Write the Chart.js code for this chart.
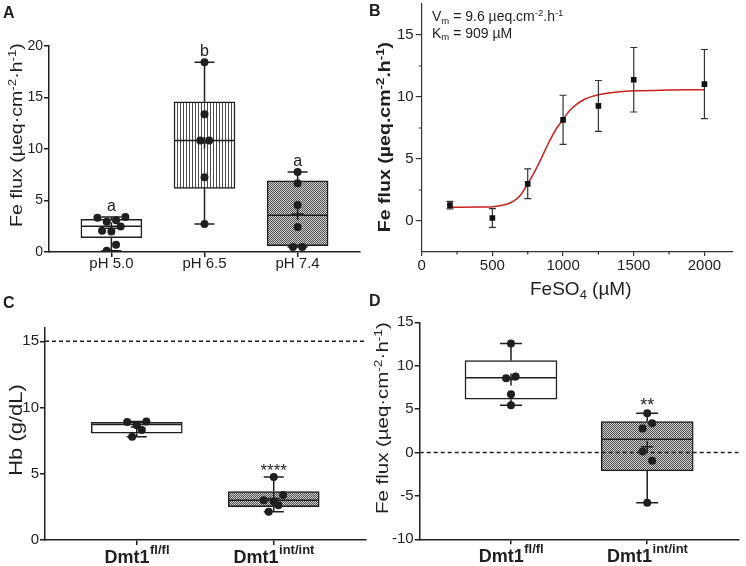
<!DOCTYPE html>
<html>
<head>
<meta charset="utf-8">
<script src="https://cdn.jsdelivr.net/npm/chart.js@4.4.1/dist/chart.umd.min.js"></script>
<style>
  body { margin: 0; width: 746px; height: 566px; position: relative; overflow: hidden; background: #fff;
         font-family: "Liberation Sans", Arial, sans-serif; color: #1f1f1f; }
  canvas { position: absolute; }
  .t { position: absolute; white-space: nowrap; line-height: 1; }
  .letter { font-weight: bold; font-size: 16px; }
  .yt { transform: translate(-50%, -50%) rotate(-90deg) scaleX(1.15); }
  sup, sub { font-size: 0.68em; line-height: 0; position: relative; vertical-align: baseline; }
  sup { top: -0.55em; }
  sub { top: 0.3em; }
</style>
</head>
<body>
<canvas id="chartA" width="373" height="283" style="left:0;top:0"></canvas>
<canvas id="chartB" width="373" height="283" style="left:373px;top:0"></canvas>
<canvas id="chartC" width="373" height="283" style="left:0;top:283px"></canvas>
<canvas id="chartD" width="373" height="283" style="left:373px;top:283px"></canvas>

<div class="t letter" style="left:3px;top:4.5px">A</div>
<div class="t letter" style="left:369px;top:3px">B</div>
<div class="t letter" style="left:3px;top:294.5px">C</div>
<div class="t letter" style="left:369px;top:293px">D</div>

<div class="t yt" style="left:16px;top:135px;font-size:17px">Fe flux (µeq·cm<sup>-2</sup>·h<sup>-1</sup>)</div>
<div class="t yt" style="left:384px;top:137px;font-size:17px;font-weight:bold">Fe flux (µeq.cm<sup>-2</sup>.h<sup>-1</sup>)</div>
<div class="t" style="left:432px;top:9px;font-size:14px">V<sub>m</sub> = 9.6 µeq.cm<sup>-2</sup>.h<sup>-1</sup></div>
<div class="t" style="left:432px;top:25.5px;font-size:14px">K<sub>m</sub> = 909 µM</div>
<div class="t" style="left:530px;top:279px;font-size:19px">FeSO<sub>4</sub> (µM)</div>
<div class="t yt" style="left:16px;top:430px;font-size:18px;transform:translate(-50%,-50%) rotate(-90deg) scaleX(1.22)">Hb (g/dL)</div>
<div class="t yt" style="left:382px;top:418px;font-size:17px;transform:translate(-50%,-50%) rotate(-90deg) scaleX(1.2)">Fe flux (µeq·cm<sup>-2</sup>·h<sup>-1</sup>)</div>

<script>
const INK = '#1f1f1f';
const FONT = '"Liberation Sans", Arial, sans-serif';
Chart.defaults.font.family = FONT;
Chart.defaults.color = INK;

// A: Fe flux at three pH values
const phLabels = ['pH 5.0', 'pH 6.5', 'pH 7.4'];
const phPoints = [
  [3.32, 2.93, 3.09, 3.41, 2.06, 2.0, 2.48, 0.71, 0.13],
  [18.42, 13.37, 10.82, 10.82, 7.25, 2.71],
  [7.76, 6.67, 4.57, 2.42, 0.48, 0.48]
];
const phJitter = [
  [-0.15, -0.05, 0.05, 0.15, -0.1, 0, 0.1, 0.05, -0.05],
  [0, 0, -0.045, 0.05, 0, 0],
  [0, 0, 0, 0, -0.05, 0.05]
];
const phQ1 = [1.38, 6.18, 0.61];
const phMedian = [2.51, 10.82, 3.57];
const phQ3 = [3.16, 14.59, 6.92];
const phMin = [0.13, 2.71, 0.48];
const phMax = [3.41, 18.42, 7.76];
const phMean = [2.3, 10.6, 3.7];
const phSig = ['a', 'b', 'a'];
const phTicks = [0, 5, 10, 15, 20];

// B: Fe flux vs FeSO4 concentration
const feConc = [200, 500, 750, 1000, 1250, 1500, 2000];
const feFlux = [1.28, 0.24, 3.0, 8.16, 9.28, 11.39, 11.04];
const feErr = [0.3, 0.75, 1.2, 1.98, 2.05, 2.6, 2.79];
const fitConc = [200, 400, 500, 600, 650, 700, 750, 800, 850, 900, 950, 1000, 1050, 1100, 1150, 1200, 1250, 1300, 1400, 1500, 1750, 2000];
const fitFlux = [1.10, 1.12, 1.15, 1.35, 1.6, 2.1, 3.0, 4.0, 5.15, 6.35, 7.4, 8.2, 8.95, 9.45, 9.8, 10.03, 10.19, 10.29, 10.43, 10.5, 10.56, 10.59];
const concTicks = [0, 500, 1000, 1500, 2000];
const concMinor = [250, 750, 1250, 1750];
const fluxTicks = [0, 5, 10, 15];
const fluxMinor = [2.5, 7.5, 12.5];

// C and D: Dmt1 genotypes
const geneName = 'Dmt1';
const genotypes = ['fl/fl', 'int/int'];

const hbPoints = [[8.91, 8.94, 8.66, 8.31, 7.8], [4.76, 3.4, 3.0, 2.9, 2.62, 2.14]];
const hbJitter = [[-0.07, 0.07, 0, 0.037, -0.034], [0, 0.068, -0.073, 0, 0.034, -0.037]];
const hbQ1 = [8.06, 2.52];
const hbMedian = [8.71, 3.0];
const hbQ3 = [8.89, 3.65];
const hbMin = [7.8, 2.14];
const hbMax = [8.94, 4.76];
const hbMean = [8.52, 3.14];
const hbSig = ['', '****'];
const hbNormal = 15;
const hbTicks = [0, 5, 10, 15];

const dPoints = [[12.56, 8.56, 8.76, 6.72, 5.45], [4.53, 3.38, 2.76, 0.12, -0.96, -5.8]];
const dJitter = [[0, -0.036, 0.034, 0, 0], [0, 0.036, -0.034, -0.034, 0.036, 0]];
const dQ1 = [6.14, -2.11];
const dMedian = [8.6, 1.54];
const dQ3 = [10.6, 3.57];
const dMin = [5.45, -5.8];
const dMax = [12.56, 4.53];
const dMean = [8.4, 0.67];
const dSig = ['', '**'];
const dTicks = [-10, -5, 0, 5, 10, 15];

function pattern(w, h, paint) {
  const c = document.createElement('canvas');
  c.width = w; c.height = h;
  const g = c.getContext('2d');
  paint(g);
  return g.createPattern(c, 'repeat');
}
const white = '#ffffff';
const stripes = pattern(3, 1, g => {
  g.fillStyle = '#fff'; g.fillRect(0, 0, 3, 1);
  g.fillStyle = '#4a4a4a'; g.fillRect(0, 0, 1, 1);
});
const checker = pattern(2, 2, g => {
  g.fillStyle = '#d2d2d2'; g.fillRect(0, 0, 2, 2);
  g.fillStyle = '#4e4e4e'; g.fillRect(0, 0, 1, 1); g.fillRect(1, 1, 1, 1);
});

function boxExtras(g) {
  return {
    id: 'boxExtras',
    afterDatasetDraw(chart, args) {
      if (args.index !== 0) return;
      const { ctx, chartArea, scales: { x, y } } = chart;
      ctx.save();
      ctx.strokeStyle = INK;
      ctx.lineWidth = 1.5;
      if (g.refLine !== undefined) {
        const ry = y.getPixelForValue(g.refLine);
        ctx.setLineDash([4, 3]);
        ctx.beginPath();
        ctx.moveTo(chartArea.left, ry);
        ctx.lineTo(chartArea.right, ry);
        ctx.stroke();
        ctx.setLineDash([]);
      }
      g.q1.forEach((q, i) => {
        const cx = x.getPixelForValue(i);
        const hb = g.boxPx / 2 - 1, hc = g.capPx / 2;
        const pMed = y.getPixelForValue(g.median[i]);
        const pQ1 = y.getPixelForValue(q), pQ3 = y.getPixelForValue(g.q3[i]);
        const pMin = y.getPixelForValue(g.min[i]), pMax = y.getPixelForValue(g.max[i]);
        ctx.beginPath();
        ctx.moveTo(cx - hb, pMed); ctx.lineTo(cx + hb, pMed);
        ctx.moveTo(cx, pQ3); ctx.lineTo(cx, pMax);
        ctx.moveTo(cx - hc, pMax); ctx.lineTo(cx + hc, pMax);
        ctx.moveTo(cx, pQ1); ctx.lineTo(cx, pMin);
        ctx.moveTo(cx - hc, pMin); ctx.lineTo(cx + hc, pMin);
        ctx.stroke();
      });
      ctx.restore();
    },
    afterDraw(chart) {
      const { ctx, scales: { x, y } } = chart;
      ctx.save();
      ctx.fillStyle = INK;
      ctx.textBaseline = 'alphabetic';
      ctx.font = g.sigFont;
      ctx.textAlign = 'center';
      g.sig.forEach((s, i) => {
        if (s) ctx.fillText(s, x.getPixelForValue(i), y.getPixelForValue(g.max[i]) - g.sigGap);
      });
      if (g.sup) {
        ctx.textAlign = 'left';
        g.sup.forEach((s, i) => {
          ctx.font = 'bold 18px ' + FONT;
          const w1 = ctx.measureText(geneName).width;
          ctx.font = 'bold 13px ' + FONT;
          const w2 = ctx.measureText(s).width;
          const x0 = x.getPixelForValue(i) - (w1 + w2) / 2;
          const base = x.top + 22.5;
          ctx.font = 'bold 18px ' + FONT;
          ctx.fillText(geneName, x0, base);
          ctx.font = 'bold 13px ' + FONT;
          ctx.fillText(s, x0 + w1 + 0.5, base - 8.5);
        });
      }
      ctx.restore();
    }
  };
}

function boxChart(id, g) {
  const pts = [];
  g.points.forEach((arr, i) => arr.forEach((v, j) => pts.push({ x: i + g.jitter[i][j], y: v })));
  const n = g.q1.length;
  const axisLine = { display: true, drawOnChartArea: false, offset: false, color: INK, lineWidth: 1.5, tickLength: 5 };
  return new Chart(document.getElementById(id), {
    type: 'scatter',
    data: {
      datasets: [
        { type: 'bar', data: g.q1.map((q, i) => ({ x: i, y: [q, g.q3[i]] })),
          backgroundColor: g.fills, borderColor: INK, borderWidth: 1.5, borderSkipped: false,
          barThickness: g.boxPx, order: 3 },
        { data: g.mean.map((m, i) => ({ x: i, y: m })), pointStyle: 'cross', pointRadius: 6,
          borderColor: INK, borderWidth: 1.5, order: 2 },
        { data: pts, pointRadius: 4, backgroundColor: INK, borderWidth: 0, order: 1 }
      ]
    },
    options: {
      responsive: false, animation: false, events: [],
      layout: { padding: g.pad },
      plugins: { legend: { display: false }, tooltip: { enabled: false } },
      scales: {
        x: {
          type: 'linear', min: -0.67, max: n - 1 + 0.67, offset: false,
          afterBuildTicks: s => { s.ticks = g.q1.map((_, i) => ({ value: i })); },
          afterFit: s => { s.height = g.xH; s.paddingLeft = 0; s.paddingRight = 0; },
          grid: axisLine,
          border: { color: INK, width: 1.5 },
          ticks: { autoSkip: false, maxRotation: 0, padding: g.xPad, color: INK, font: { size: 15 },
                   callback: v => g.cats ? g.cats[v] : '' }
        },
        y: {
          min: g.yMin, max: g.yMax,
          afterBuildTicks: s => { s.ticks = g.yTicks.map(v => ({ value: v })); },
          afterFit: s => { s.width = g.yW; s.paddingTop = 0; s.paddingBottom = 0; },
          grid: axisLine,
          border: { color: INK, width: 1.5 },
          ticks: { padding: 1, color: INK, font: { size: g.yFont } }
        }
      }
    },
    plugins: [boxExtras(g)]
  });
}

boxChart('chartA', {
  cats: phLabels, points: phPoints, jitter: phJitter,
  q1: phQ1, median: phMedian, q3: phQ3, min: phMin, max: phMax, mean: phMean,
  sig: phSig, sigFont: '16px ' + FONT, sigGap: 6,
  fills: [white, stripes, checker], boxPx: 61, capPx: 20,
  yMin: 0, yMax: 20, yTicks: phTicks, yFont: 14,
  pad: { left: 0, top: 46, right: 13, bottom: 0 }, yW: 49, xH: 31, xPad: -2
});

boxChart('chartC', {
  sup: genotypes, points: hbPoints, jitter: hbJitter,
  q1: hbQ1, median: hbMedian, q3: hbQ3, min: hbMin, max: hbMax, mean: hbMean,
  sig: hbSig, sigFont: '17px ' + FONT, sigGap: 1, refLine: hbNormal,
  fills: [white, checker], boxPx: 91, capPx: 20,
  yMin: 0, yMax: 16, yTicks: hbTicks, yFont: 15,
  pad: { left: 0, top: 45, right: 7, bottom: 0 }, yW: 45, xH: 26, xPad: 0
});

boxChart('chartD', {
  sup: genotypes, points: dPoints, jitter: dJitter,
  q1: dQ1, median: dMedian, q3: dQ3, min: dMin, max: dMax, mean: dMean,
  sig: dSig, sigFont: '18px ' + FONT, sigGap: 2, refLine: 0,
  fills: [white, checker], boxPx: 92, capPx: 22,
  yMin: -10, yMax: 15, yTicks: dTicks, yFont: 15,
  pad: { left: 0, top: 39.3, right: 1.3, bottom: 0 }, yW: 46.7, xH: 26.7, xPad: 0
});

// B: saturation curve with error bars
const errBars = {
  id: 'errBars',
  afterDatasetDraw(chart, args) {
    if (args.index !== 1) return;
    const { ctx, scales: { x, y } } = chart;
    ctx.save();
    ctx.strokeStyle = '#333';
    ctx.lineWidth = 1.2;
    ctx.beginPath();
    feConc.forEach((c, i) => {
      const px = x.getPixelForValue(c);
      const top = y.getPixelForValue(feFlux[i] + feErr[i]);
      const bot = y.getPixelForValue(feFlux[i] - feErr[i]);
      ctx.moveTo(px, top); ctx.lineTo(px, bot);
      ctx.moveTo(px - 3.5, top); ctx.lineTo(px + 3.5, top);
      ctx.moveTo(px - 3.5, bot); ctx.lineTo(px + 3.5, bot);
    });
    ctx.stroke();
    ctx.restore();
  },
  afterDraw(chart) {
    const { ctx, scales: { x, y } } = chart;
    ctx.save();
    ctx.strokeStyle = '#333';
    ctx.lineWidth = 1.2;
    ctx.beginPath();
    concMinor.forEach(v => {
      const px = x.getPixelForValue(v);
      ctx.moveTo(px, x.top); ctx.lineTo(px, x.top + 2.5);
    });
    fluxMinor.forEach(v => {
      const py = y.getPixelForValue(v);
      ctx.moveTo(y.right, py); ctx.lineTo(y.right - 3, py);
    });
    ctx.stroke();
    ctx.restore();
  }
};

new Chart(document.getElementById('chartB'), {
  type: 'scatter',
  data: {
    datasets: [
      { data: feConc.map((c, i) => ({ x: c, y: feFlux[i] })), pointStyle: 'rect', pointRadius: 4,
        backgroundColor: '#111', borderWidth: 0, order: 1 },
      { data: fitConc.map((c, i) => ({ x: c, y: fitFlux[i] })), showLine: true, pointRadius: 0,
        borderColor: '#c9211e', borderWidth: 1.5, cubicInterpolationMode: 'monotone', order: 2 }
    ]
  },
  options: {
    responsive: false, animation: false, events: [],
    layout: { padding: { left: 0, top: 1.7, right: 13.3, bottom: 0 } },
    plugins: { legend: { display: false }, tooltip: { enabled: false } },
    scales: {
      x: {
        min: 0, max: 2200,
        afterBuildTicks: s => { s.ticks = concTicks.map(v => ({ value: v })); },
        afterFit: s => { s.height = 31; s.paddingLeft = 0; s.paddingRight = 0; },
        grid: { display: true, drawOnChartArea: false, color: '#333', lineWidth: 1.2, tickLength: 4 },
        border: { color: '#333', width: 1.2 },
        ticks: { padding: 1, color: '#222', font: { size: 15 }, callback: v => String(v) }
      },
      y: {
        min: -2.5, max: 17.5,
        afterBuildTicks: s => { s.ticks = fluxTicks.map(v => ({ value: v })); },
        afterFit: s => { s.width = 48.7; s.paddingTop = 0; s.paddingBottom = 0; },
        grid: { display: true, drawOnChartArea: false, color: '#333', lineWidth: 1.2, tickLength: 6 },
        border: { color: '#333', width: 1.2 },
        ticks: { padding: 2, color: '#222', font: { size: 15 } }
      }
    }
  },
  plugins: [errBars]
});
</script>
</body>
</html>
